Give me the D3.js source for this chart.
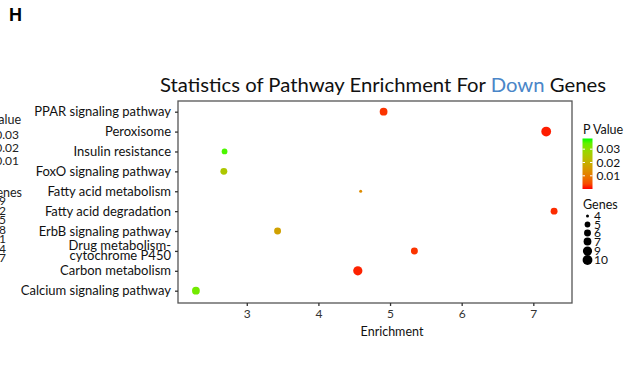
<!DOCTYPE html>
<html><head><meta charset="utf-8">
<script src="https://cdn.jsdelivr.net/npm/d3@7"></script>
<style>body{margin:0;background:#fff;} svg{display:block;font-family:Lato,"Open Sans",sans-serif;}</style>
</head><body>
<svg id="c" width="635" height="377"></svg>
<script>
const pathways = ["PPAR signaling pathway","Peroxisome","Insulin resistance","FoxO signaling pathway","Fatty acid metabolism","Fatty acid degradation","ErbB signaling pathway","Drug metabolism-\ncytochrome P450","Carbon metabolism","Calcium signaling pathway"];
const enrichment = [4.91, 7.18, 2.69, 2.68, 4.59, 7.29, 3.43, 5.34, 4.55, 2.29];
const pValues = [0.002, 0.0008, 0.036, 0.025, 0.013, 0.0015, 0.017, 0.002, 0.001, 0.033];
const geneCounts = [7, 10, 5, 6, 4, 6, 6, 6, 9, 7];
const xTicks = [3, 4, 5, 6, 7];
const pTicks = [0.01, 0.02, 0.03];
const geneTicks = [4, 5, 6, 7, 9, 10];
const leftPanelGeneTicks = ["9","12","15","18","21","24","27"];
const leftPanelPTicks = ["0.03","0.02","0.01"];

const svg = d3.select("#c");
const L = 178, R = 572, T = 101, B = 303;

const x = d3.scaleLinear().domain([2.04, 7.54]).range([L, R]);
const y = d3.scalePoint().domain(pathways).range([111.7, 290.7]);
const color = d3.scaleLinear().domain([0.0001, 0.038]).range(["#ff0000", "#00ff00"]).interpolate(d3.interpolateLab);
// area-style size scale (like ggplot scale_size)
const sizeT = d3.scaleLinear().domain([4, 10]).range([0, 1]);
const rScale = g => 1.5 + 3.4 * Math.sqrt(sizeT(g));

// panel label
svg.append("text").attr("x", 9).attr("y", 21).attr("font-family", "Liberation Sans, Arial, sans-serif")
  .attr("font-weight", "bold").attr("font-size", 18).text("H");

// cut-off legend of neighbouring panel
svg.append("text").attr("x", 21).attr("y", 124).attr("text-anchor", "end").attr("font-size", 12.5).attr("fill", "#222").text("P Value");
leftPanelPTicks.forEach((t, i) => svg.append("text").attr("x", 19).attr("y", 139 + i * 13).attr("text-anchor", "end")
  .attr("font-size", 12).attr("fill", "#222").text(t));
svg.append("text").attr("x", 22).attr("y", 197).attr("text-anchor", "end").attr("font-size", 12.5).attr("fill", "#222").text("Genes");
leftPanelGeneTicks.forEach((t, i) => svg.append("text").attr("x", 6).attr("y", 205 + i * 9.5).attr("text-anchor", "end")
  .attr("font-size", 12).attr("fill", "#222").text(t));

// title
const title = svg.append("text").attr("x", 160).attr("y", 92).attr("font-size", 19.5).attr("fill", "#111")
  .attr("textLength", 446).attr("lengthAdjust", "spacingAndGlyphs");
title.append("tspan").text("Statistics of Pathway Enrichment For ");
title.append("tspan").attr("fill", "#4a86c8").text("Down");
title.append("tspan").text(" Genes");

// panel
svg.append("rect").attr("x", L).attr("y", T).attr("width", R - L).attr("height", B - T)
  .attr("fill", "#fff").attr("stroke", "#555").attr("stroke-width", 1.3);

// x axis
const xAxis = svg.append("g").attr("transform", `translate(0,${B})`)
  .call(d3.axisBottom(x).tickValues(xTicks).tickSize(3).tickPadding(3).tickFormat(d3.format("d")));
xAxis.select(".domain").remove();
xAxis.selectAll(".tick line").attr("stroke", "#333").attr("stroke-width", 1.3);
xAxis.selectAll(".tick text").attr("font-size", 12).attr("fill", "#333").attr("font-family", "Lato, sans-serif");

// y axis
const yAxis = svg.append("g").attr("transform", `translate(${L},0)`)
  .call(d3.axisLeft(y).tickSize(3).tickPadding(4));
yAxis.select(".domain").remove();
yAxis.selectAll(".tick line").attr("stroke", "#333").attr("stroke-width", 1.3);
yAxis.selectAll(".tick text").attr("font-size", 13).attr("fill", "#111").attr("font-family", "Lato, sans-serif")
  .each(function(d) {
    const lines = d.split("\n");
    if (lines.length > 1) {
      const t = d3.select(this).text(null).attr("dy", null);
      lines.forEach((ln, i) => t.append("tspan").attr("x", -7).attr("dy", i === 0 ? "-0.1em" : "0.76em").text(ln));
    }
  });

svg.append("text").attr("x", 392).attr("y", 336).attr("text-anchor", "middle").attr("font-size", 12.5)
  .attr("fill", "#111").text("Enrichment");

// points
const data = pathways.map((p, i) => ({p, e: enrichment[i], pv: pValues[i], g: geneCounts[i]}));
svg.append("g").selectAll("circle").data(data).join("circle")
  .attr("cx", d => x(d.e)).attr("cy", d => y(d.p)).attr("r", d => rScale(d.g))
  .attr("fill", d => color(d.pv));

// color legend
svg.append("text").attr("x", 583).attr("y", 134).attr("font-size", 12.5).attr("fill", "#111").text("P Value");
const barTop = 138.5, barBot = 189, bx = 582.5, bw = 10;
const cy = d3.scaleLinear().domain(color.domain()).range([barBot, barTop]);
const defs = svg.append("defs");
const grad = defs.append("linearGradient").attr("id", "pg").attr("x1", 0).attr("y1", 1).attr("x2", 0).attr("y2", 0);
d3.range(0, 1.0001, 0.1).forEach(t => grad.append("stop").attr("offset", t)
  .attr("stop-color", color(color.domain()[0] + t * (color.domain()[1] - color.domain()[0]))));
svg.append("rect").attr("x", bx).attr("y", barTop).attr("width", bw).attr("height", barBot - barTop).attr("fill", "url(#pg)");
pTicks.forEach(t => {
  svg.append("line").attr("x1", bx).attr("x2", bx + 2.5).attr("y1", cy(t)).attr("y2", cy(t)).attr("stroke", "#fff").attr("stroke-width", 1);
  svg.append("line").attr("x1", bx + bw - 2.5).attr("x2", bx + bw).attr("y1", cy(t)).attr("y2", cy(t)).attr("stroke", "#fff").attr("stroke-width", 1);
  svg.append("text").attr("x", 596.5).attr("y", cy(t)).attr("dy", "0.35em").attr("font-size", 12).attr("fill", "#111").text(t.toFixed(2));
});

// size legend
svg.append("text").attr("x", 583).attr("y", 209).attr("font-size", 12.5).attr("fill", "#111").text("Genes");
const gy = [216, 224.5, 233, 241.5, 251, 260];
geneTicks.forEach((g, i) => {
  svg.append("circle").attr("cx", 587.5).attr("cy", gy[i]).attr("r", rScale(g)).attr("fill", "#000");
  svg.append("text").attr("x", 594).attr("y", gy[i]).attr("dy", "0.35em").attr("font-size", 12).attr("fill", "#111").text(g);
});
</script>
</body></html>
